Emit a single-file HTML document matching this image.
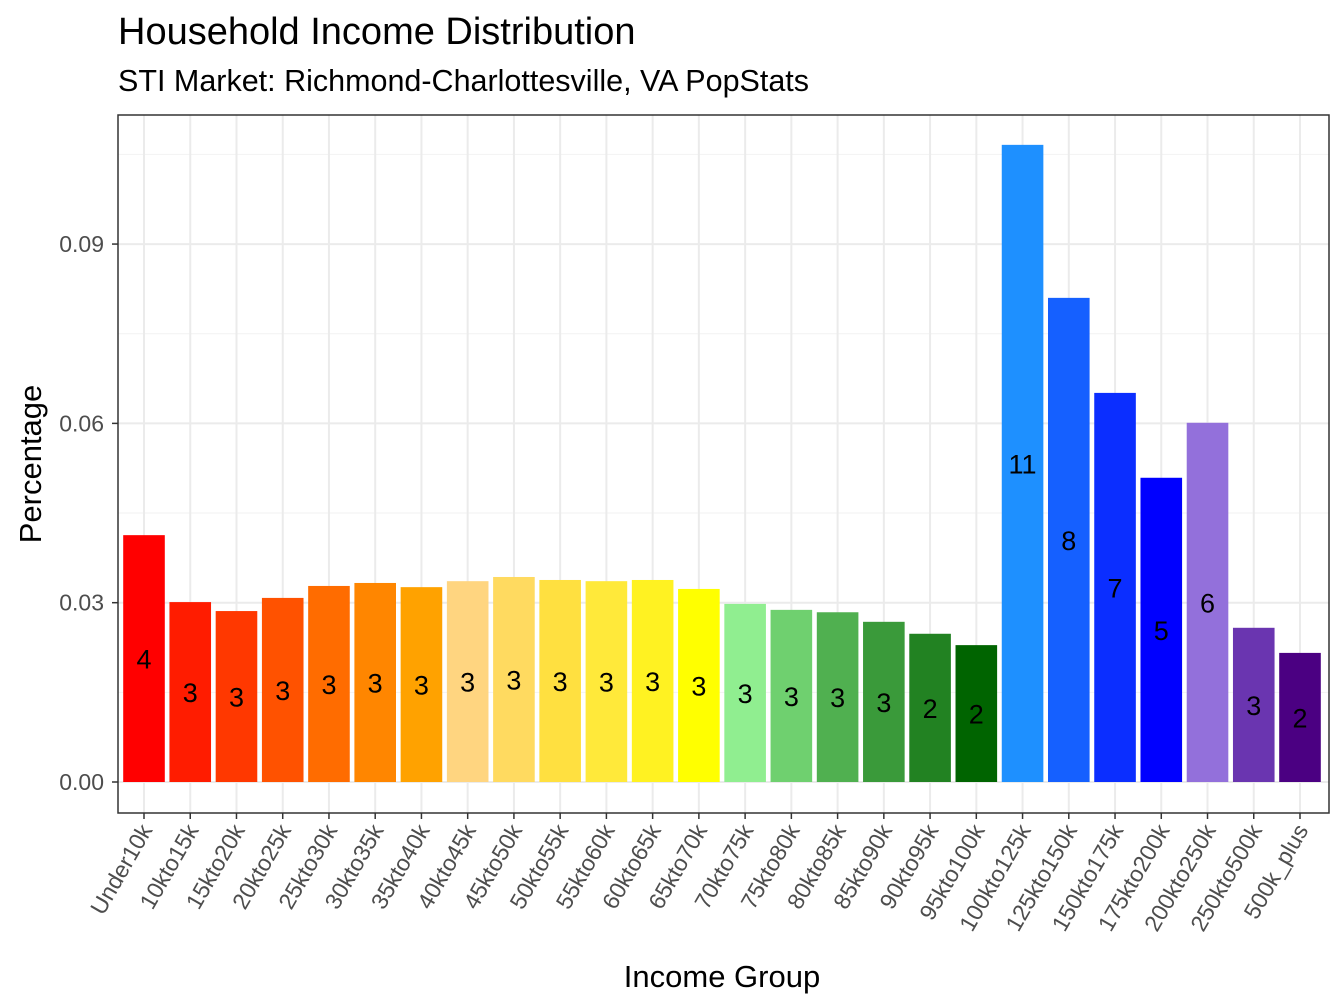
<!DOCTYPE html>
<html><head><meta charset="utf-8"><style>
body{margin:0;background:#fff;}
svg{display:block;font-family:"Liberation Sans",Arial,sans-serif;}
</style></head><body>
<svg id="chart" width="1344" height="1008">
<text x="118" y="44" font-size="38" fill="#000">Household Income Distribution</text>
<text x="118" y="91" font-size="30.5" fill="#000">STI Market: Richmond-Charlottesville, VA PopStats</text>
<g id="grid"></g>
<g id="bars"></g>
<g id="labels"></g>
<rect x="118" y="115" width="1211" height="698" fill="none" stroke="#333" stroke-width="1.5"/>
<g id="axes"></g>
<text x="722" y="987" font-size="31" text-anchor="middle" fill="#000">Income Group</text>
<text transform="translate(41,464) rotate(-90)" font-size="31" text-anchor="middle" fill="#000">Percentage</text>
</svg>
<script>
const categories=["Under10k","10kto15k","15kto20k","20kto25k","25kto30k","30kto35k","35kto40k","40kto45k","45kto50k","50kto55k","55kto60k","60kto65k","65kto70k","70kto75k","75kto80k","80kto85k","85kto90k","90kto95k","95kto100k","100kto125k","125kto150k","150kto175k","175kto200k","200kto250k","250kto500k","500k_plus"];
const values=[0.0413,0.0301,0.0286,0.0308,0.0328,0.0333,0.0326,0.0336,0.0343,0.0338,0.0336,0.0338,0.0323,0.0298,0.0288,0.0284,0.0268,0.0248,0.0229,0.1066,0.0810,0.0651,0.0509,0.0601,0.0258,0.0216];
const colors=["#FF0000","#FF1C00","#FF3800","#FF5200","#FF6C00","#FF8600","#FFA200","#FFD580","#FFDA60","#FFE040","#FFE93A","#FFF222","#FFFF00","#90EE90","#6FD06F","#50B050","#3A9A3A","#228222","#006400","#1E90FF","#1560FF","#0B2EFF","#0000FF","#9370DB","#6A35B0","#4B0082"];
const yTicks=[0,0.03,0.06,0.09];
const yTickLabels=["0.00","0.03","0.06","0.09"];
const yMinor=[0.015,0.045,0.075,0.105];
const NS="http://www.w3.org/2000/svg";
const y0=782,pxPerUnit=5977,x0=144,step=46.24,bw=41.6,panelLeft=118,panelRight=1329,panelTop=115,panelBottom=813;
const yScale=v=>y0-v*pxPerUnit;
const xScale=i=>x0+i*step;
function mk(tag,parent,attrs){const e=document.createElementNS(NS,tag);for(const k in attrs)e.setAttribute(k,attrs[k]);document.getElementById(parent).appendChild(e);return e;}
yMinor.forEach(v=>{const l=mk("line","grid",{x1:panelLeft,x2:panelRight,y1:yScale(v),y2:yScale(v),stroke:"#F2F2F2","stroke-width":1});

});
yTicks.forEach((v,i)=>{const l=mk("line","grid",{x1:panelLeft,x2:panelRight,y1:yScale(v),y2:yScale(v),stroke:"#EBEBEB","stroke-width":2});


const t=mk("line","axes",{x1:112,x2:118,y1:yScale(v),y2:yScale(v),stroke:"#333","stroke-width":1.5});


const tx=mk("text","axes",{x:104,y:yScale(v)+8,"font-size":23,"text-anchor":"end",fill:"#4D4D4D"});
tx.textContent=yTickLabels[i];

});
categories.forEach((c,i)=>{const x=xScale(i);
const g=mk("line","grid",{x1:x,x2:x,y1:panelTop,y2:panelBottom,stroke:"#EBEBEB","stroke-width":2});


const v=values[i];
const r=mk("rect","bars",{x:x-bw/2,y:yScale(v),width:bw,height:y0-yScale(v),fill:colors[i]});


const lb=mk("text","labels",{x:x,y:yScale(v/2)+10,"font-size":27,"text-anchor":"middle",fill:"#000"});
lb.textContent=Math.round(v*100);


const t=mk("line","axes",{x1:x,x2:x,y1:813,y2:819,stroke:"#333","stroke-width":1.5});


const tx=mk("text","axes",{x:x+9,y:830,"font-size":23,"text-anchor":"end",fill:"#4D4D4D",transform:"rotate(-60 "+(x+9)+" 830)"});
tx.textContent=c;

});
</script>
</body></html>
